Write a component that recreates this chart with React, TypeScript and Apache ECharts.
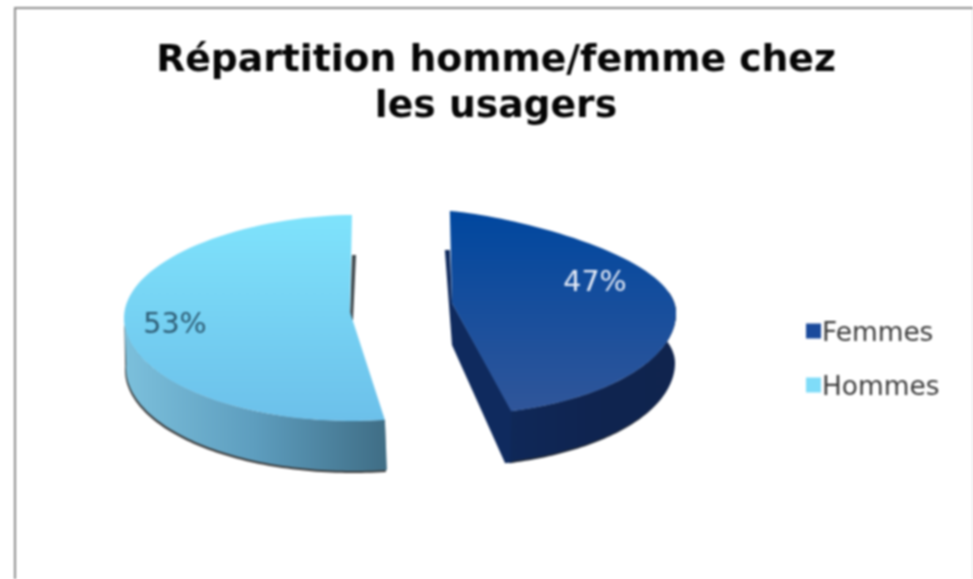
import React, { useEffect, useRef } from "react";
import * as echarts from "echarts";

const categories = ["Femmes", "Hommes"];
const percentages = [47, 53];
const titleLines = ["Répartition homme/femme chez", "les usagers"];
const legendColors = ["#1a4a9c", "#7fdcf8"];

const FONT = "DejaVu Sans";

type Look = {
  cx: number; cy: number; rx: number; ry: number; apexX: number; apexY: number;
  startAdj: number; endAdj: number; farPinch: number;
  depth: number; shiftX: number; sideFrom: number; sideTo: number;
  top: [string, string]; side: [string, string, string]; inner: string; edge: string;
  labelX: number; labelY: number; labelColor: string;
};

const looks: Look[] = [
  {
    cx: 450, cy: 313, rx: 226, ry: 102, apexX: 452, apexY: 303,
    startAdj: -0.5, endAdj: -4.9, farPinch: 1.55,
    depth: 50, shiftX: -1, sideFrom: 78, sideTo: 164.3,
    top: ["#00479f", "#30569a"], side: ["#0f2858", "#0f2450", "#10244e"], inner: "#0f2a5e", edge: "#222a38",
    labelX: 595, labelY: 281, labelColor: "#e6ecf8",
  },
  {
    cx: 352, cy: 318, rx: 228, ry: 103, apexX: 350, apexY: 312,
    startAdj: 2.5, endAdj: 0, farPinch: 1.1,
    depth: 50, shiftX: 2, sideFrom: 171.7, sideTo: 272,
    top: ["#7fe3fc", "#6cc0ea"], side: ["#3f6d85", "#5d9dbe", "#7cc0dc"], inner: "#3d474c", edge: "#3c3c3c",
    labelX: 175, labelY: 323, labelColor: "#2c5a72",
  },
];

function rim(l: Look, deg: number): number[] {
  const t = (deg * Math.PI) / 180;
  const s = Math.sin(t);
  const c = Math.cos(t);
  const k = c > 0 ? Math.pow(Math.abs(s), l.farPinch) * Math.sign(s) : s;
  return [l.cx + l.rx * k, l.cy - l.ry * c];
}

function arc(l: Look, a: number, b: number): number[][] {
  const pts: number[][] = [];
  const n = 80;
  for (let i = 0; i <= n; i++) pts.push(rim(l, a + ((b - a) * i) / n));
  return pts;
}

function renderSlice(params: any, api: any) {
  const i = params.seriesIndex as number;
  const total = percentages.reduce((a, b) => a + b, 0);
  const before = percentages.slice(0, i).reduce((a, b) => a + b, 0);
  const value = api.value(0) as number;
  const l = looks[i];
  const t0 = (before / total) * 360 + l.startAdj;
  const t1 = ((before + value) / total) * 360 + l.endAdj;
  const topPts = [[l.apexX, l.apexY], ...arc(l, t0, t1)];

  const front = arc(l, l.sideFrom, l.sideTo);
  const lower = front.map((p) => [p[0] + l.shiftX, p[1] + l.depth]);
  const sidePts = [...front, ...lower.slice().reverse()];
  const edgePts = lower.map((p) => [p[0] - 1, p[1] + 2]);
  const edgePoly = [...front, ...edgePts.slice().reverse()];

  const children: any[] = [];
  children.push({ type: "polygon", shape: { points: edgePoly }, style: { fill: l.edge } });

  if (i === 0) {
    const s = rim(l, t0);
    const e = rim(l, t1);
    children.push({
      type: "polygon",
      shape: {
        points: [
          [s[0], s[1] + 39], [s[0] - 5, s[1] + 39],
          [l.apexX, l.apexY + 42], [e[0] - 6, e[1] + 52], [e[0] + 1, e[1] + 51], [e[0] + 1, e[1]], [l.apexX, l.apexY],
        ],
      },
      style: { fill: l.inner },
    });
  } else {
    const s = rim(l, t1);
    children.push({
      type: "polygon",
      shape: {
        points: [
          [s[0], s[1] + 40], [s[0] + 4, s[1] + 40],
          [l.apexX + 3, l.apexY + 8], [l.apexX, l.apexY + 8],
        ],
      },
      style: { fill: l.inner },
    });
  }

  children.push({
    type: "polygon",
    shape: { points: sidePts },
    style: {
      fill: new echarts.graphic.LinearGradient(0, 0, 1, 0, [
        { offset: 0, color: i === 0 ? l.side[0] : l.side[2] },
        { offset: 0.5, color: l.side[1] },
        { offset: 1, color: i === 0 ? l.side[2] : l.side[0] },
      ]),
    },
  });
  children.push({
    type: "polygon",
    shape: { points: topPts },
    style: {
      fill: new echarts.graphic.LinearGradient(0, 0, 0, 1, [
        { offset: 0, color: l.top[0] },
        { offset: 1, color: l.top[1] },
      ]),
    },
  });
  children.push({
    type: "text",
    x: l.labelX,
    y: l.labelY,
    style: {
      text: `${value}%`,
      fill: l.labelColor,
      fontFamily: FONT,
      fontSize: 28.5,
      textAlign: "center",
      textVerticalAlign: "middle",
    },
  });
  return { type: "group", children };
}

export default function App() {
  const ref = useRef<HTMLDivElement>(null);
  useEffect(() => {
    document.body.style.margin = "0";
    const chart = echarts.init(ref.current!, undefined, { renderer: "svg" });
    chart.setOption({
      animation: false,
      backgroundColor: "#ffffff",
      title: {
        text: titleLines.join("\n"),
        left: 491,
        top: 30,
        textAlign: "center",
        textStyle: { fontFamily: FONT, fontWeight: "bold", fontSize: 37.7, lineHeight: 46, color: "#050505" },
      },
      legend: {
        orient: "vertical",
        left: 801,
        top: 313,
        itemWidth: 15,
        itemHeight: 15,
        itemGap: 28,
        icon: "rect",
        data: categories.map((name, i) => ({ name, itemStyle: { color: legendColors[i] } })),
        textStyle: { fontFamily: FONT, fontSize: 26.4, color: "#3a3a3a", padding: [0, 0, 0, -4] },
      },
      graphic: [
        { type: "line", shape: { x1: 15, y1: 8, x2: 15, y2: 579 }, style: { stroke: "#8c8c8c", lineWidth: 2 } },
        { type: "line", shape: { x1: 14, y1: 8, x2: 973, y2: 8 }, style: { stroke: "#8c8c8c", lineWidth: 2 } },
        { type: "line", shape: { x1: 972.5, y1: 9, x2: 972.5, y2: 579 }, style: { stroke: "#e2e2e2", lineWidth: 1 } },
      ],
      series: categories.map((name, i) => ({
        type: "custom",
        name,
        coordinateSystem: "none",
        itemStyle: { color: legendColors[i] },
        renderItem: renderSlice,
        data: [[percentages[i]]],
      })),
    });
    return () => chart.dispose();
  }, []);
  return <div ref={ref} style={{ width: 973, height: 579, filter: "blur(0.8px)" }} />;
}
